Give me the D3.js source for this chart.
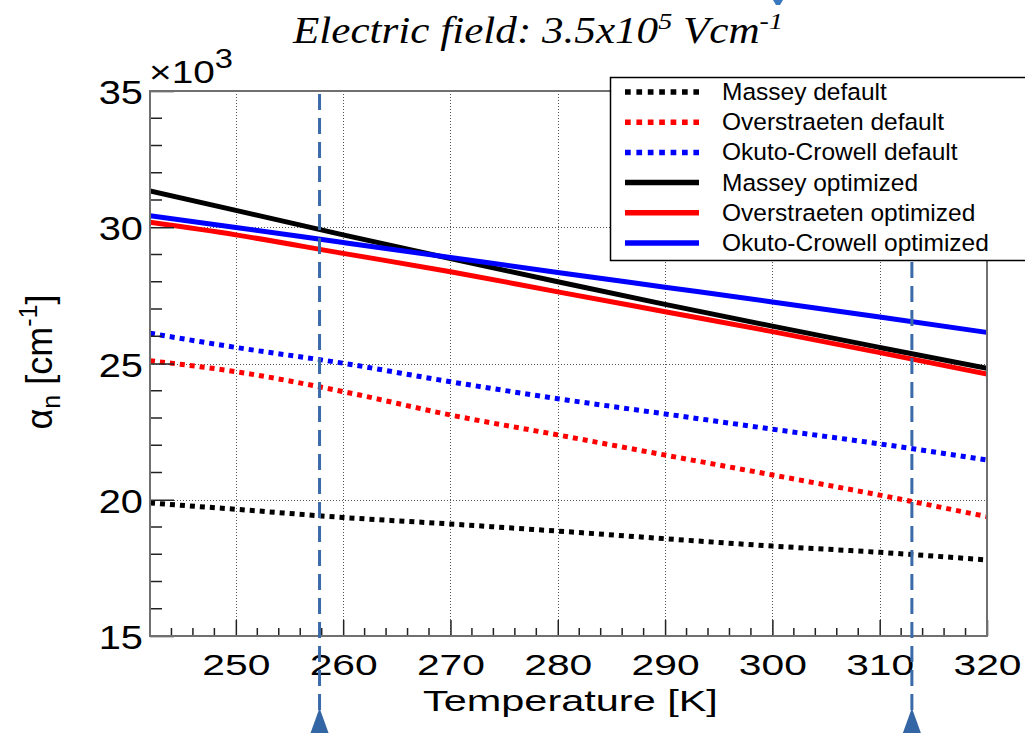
<!DOCTYPE html>
<html>
<head>
<meta charset="utf-8">
<script src="https://cdn.jsdelivr.net/npm/d3@7"></script>
<style>
  body { margin: 0; background: #fff; }
  svg { display: block; }
</style>
</head>
<body>
<svg width="1025" height="737"></svg>
<script>
// values in units of 10^3 cm^-1
const temps = [242, 250, 260, 270, 280, 290, 300, 310, 320];
const masseyDefault = [19.88, 19.65, 19.35, 19.11, 18.85, 18.57, 18.30, 18.07, 17.79];
const overstraetenDefault = [25.10, 24.70, 23.97, 23.11, 22.38, 21.64, 20.91, 20.17, 19.38];
const okutoDefault = [26.11, 25.59, 25.01, 24.33, 23.71, 23.15, 22.59, 22.05, 21.46];
const masseyOptimized = [31.33, 30.62, 29.72, 28.85, 28.00, 27.17, 26.37, 25.59, 24.82];
const overstraetenOptimized = [30.18, 29.72, 29.04, 28.37, 27.63, 26.90, 26.17, 25.40, 24.61];
const okutoOptimized = [30.42, 29.99, 29.44, 28.89, 28.34, 27.80, 27.26, 26.71, 26.14];

const xTicks = [250, 260, 270, 280, 290, 300, 310, 320];
const yTicks = [15, 20, 25, 30, 35];
const markerTemps = [257.8, 313.0];

const series = [
    { name: "Massey default", values: masseyDefault, color: "#000000", dotted: true },
    { name: "Overstraeten default", values: overstraetenDefault, color: "#ff0000", dotted: true },
    { name: "Okuto-Crowell default", values: okutoDefault, color: "#0000ff", dotted: true },
    { name: "Massey optimized", values: masseyOptimized, color: "#000000", dotted: false },
    { name: "Overstraeten optimized", values: overstraetenOptimized, color: "#ff0000", dotted: false },
    { name: "Okuto-Crowell optimized", values: okutoOptimized, color: "#0000ff", dotted: false }
];

const plotLeft = 150, plotRight = 987, plotTop = 91, plotBottom = 636;
const sans = "'Liberation Sans', Arial, sans-serif";

const svg = d3.select("svg");
const x = d3.scaleLinear().domain([242, 320]).range([plotLeft, plotRight]);
const y = d3.scaleLinear().domain([15, 35]).range([plotBottom, plotTop]);

// squeeze/stretch a text horizontally so it spans `width` px from (x0, y0)
function fitWidth(sel, x0, y0, width) {
    const len = sel.node().getComputedTextLength();
    sel.attr("transform", `translate(${x0},${y0}) scale(${width / len},1)`);
}

svg.append("defs").append("clipPath").attr("id", "frame")
    .append("rect")
    .attr("x", plotLeft).attr("y", plotTop)
    .attr("width", plotRight - plotLeft).attr("height", plotBottom - plotTop);

// grid
const grid = svg.append("g")
    .attr("stroke", "#555")
    .attr("stroke-width", 1)
    .attr("stroke-dasharray", "1,2");
grid.selectAll("line.gx")
    .data(xTicks.filter(t => t < 320))
    .join("line")
    .attr("x1", d => Math.round(x(d)) + 0.5).attr("x2", d => Math.round(x(d)) + 0.5)
    .attr("y1", plotTop).attr("y2", plotBottom);
grid.selectAll("line.gy")
    .data(yTicks.filter(t => t > 15 && t < 35))
    .join("line")
    .attr("y1", d => Math.round(y(d)) + 0.5).attr("y2", d => Math.round(y(d)) + 0.5)
    .attr("x1", plotLeft).attr("x2", plotRight);

// curves
const line = d3.line()
    .x((d, i) => x(temps[i]))
    .y(d => y(d))
    .curve(d3.curveMonotoneX);

svg.append("g")
    .attr("clip-path", "url(#frame)")
    .selectAll("path")
    .data(series)
    .join("path")
    .attr("fill", "none")
    .attr("stroke", d => d.color)
    .attr("stroke-width", 5)
    .attr("stroke-dasharray", d => d.dotted ? "5,5" : null)
    .attr("d", d => line(d.values));

// axes
const xAxis = svg.append("g")
    .attr("transform", `translate(0,${plotBottom})`)
    .call(d3.axisBottom(x).tickValues(xTicks).tickSize(-16).tickFormat(d3.format("d")));
xAxis.select(".domain").remove();
xAxis.selectAll(".tick line").attr("stroke", "#222").attr("stroke-width", 1.5);
xAxis.selectAll(".tick text")
    .attr("y", 39).attr("dy", null)
    .attr("fill", "#000")
    .style("font-family", sans)
    .style("font-size", "30px")
    .attr("transform", "scale(1.36,1)");

const yAxis = svg.append("g")
    .attr("transform", `translate(${plotLeft},0)`)
    .call(d3.axisLeft(y).tickValues(yTicks).tickSize(-24).tickFormat(d3.format("d")));
yAxis.select(".domain").remove();
yAxis.selectAll(".tick line").attr("stroke", "#222").attr("stroke-width", 1.5);
yAxis.selectAll(".tick text")
    .attr("x", -6)
    .attr("dy", "0.37em")
    .attr("fill", "#000")
    .style("font-family", sans)
    .style("font-size", "34px")
    .attr("transform", "scale(1.17,1)");

// minor ticks
const xMinor = d3.range(244, 320, 2).filter(t => t % 10 !== 0);
const yMinor = d3.range(16, 35, 1).filter(t => t % 5 !== 0);
svg.append("g").attr("stroke", "#222").attr("stroke-width", 1.5)
    .selectAll("line")
    .data(xMinor)
    .join("line")
    .attr("x1", d => x(d)).attr("x2", d => x(d))
    .attr("y1", plotBottom).attr("y2", plotBottom - 8);
svg.append("g").attr("stroke", "#222").attr("stroke-width", 1.5)
    .selectAll("line")
    .data(yMinor)
    .join("line")
    .attr("y1", d => y(d)).attr("y2", d => y(d))
    .attr("x1", plotLeft).attr("x2", plotLeft + 12);

// frame
svg.append("rect")
    .attr("x", plotLeft).attr("y", plotTop)
    .attr("width", plotRight - plotLeft).attr("height", plotBottom - plotTop)
    .attr("fill", "none")
    .attr("stroke", "#707070")
    .attr("stroke-width", 2);

// exponent label
const expo = svg.append("text")
    .style("font-family", sans)
    .style("font-size", "32px");
expo.append("tspan").text("\u00d710");
expo.append("tspan").attr("dy", -15).style("font-size", "27px").text("3");
fitWidth(expo, 149, 83, 84);

// axis titles
const xTitle = svg.append("text")
    .style("font-family", sans)
    .style("font-size", "29px")
    .text("Temperature [K]");
fitWidth(xTitle, 423, 711, 295);

const yTitle = svg.append("text")
    .attr("transform", "translate(52,362) rotate(-90)")
    .attr("text-anchor", "middle")
    .style("font-family", sans)
    .style("font-size", "36px");
yTitle.append("tspan").text("\u03b1");
yTitle.append("tspan").attr("dy", 8).style("font-size", "25px").text("n");
yTitle.append("tspan").attr("dy", -8).text(" [cm");
yTitle.append("tspan").attr("dy", -15).style("font-size", "25px").text("-1");
yTitle.append("tspan").attr("dy", 15).text("]");

// title
const title = svg.append("text")
    .style("font-family", "'Liberation Serif', 'Times New Roman', serif")
    .style("font-style", "italic")
    .style("font-size", "37px");
title.append("tspan").text("Electric field: 3.5x10");
title.append("tspan").attr("dy", -14).style("font-size", "24px").text("5");
title.append("tspan").attr("dy", 14).text(" Vcm");
title.append("tspan").attr("dy", -14).style("font-size", "24px").text("-1");
fitWidth(title, 293, 43, 490);

// marker lines (under the legend)
const markerColor = "#3a6aa8";
svg.append("g")
    .selectAll("line")
    .data(markerTemps)
    .join("line")
    .attr("x1", d => x(d)).attr("x2", d => x(d))
    .attr("y1", 94).attr("y2", 712)
    .attr("stroke", markerColor)
    .attr("stroke-width", 3)
    .attr("stroke-dasharray", "16,8");

// legend
const legend = svg.append("g");
legend.append("rect")
    .attr("x", 610.5).attr("y", 77.5)
    .attr("width", 430).attr("height", 183)
    .attr("fill", "#fff")
    .attr("stroke", "#000")
    .attr("stroke-width", 1.5);
const rows = legend.selectAll("g.row")
    .data(series)
    .join("g")
    .attr("transform", (d, i) => `translate(0,${92 + i * 30.2})`);
rows.append("line")
    .attr("x1", 625).attr("x2", 699)
    .attr("stroke", d => d.color)
    .attr("stroke-width", 5.5)
    .attr("stroke-dasharray", d => d.dotted ? "5.7,5.7" : null);
rows.append("text")
    .attr("x", 722).attr("y", 8)
    .style("font-family", sans)
    .style("font-size", "24.5px")
    .text(d => d.name);

// marker arrows at the bottom
const tri = d3.line()([[0, 0], [9, 25], [-9, 25]]) + "Z";
svg.append("g")
    .selectAll("path")
    .data(markerTemps)
    .join("path")
    .attr("transform", d => `translate(${x(d)},708)`)
    .attr("d", tri)
    .attr("fill", "#3465a4");

// small cut-off mark at the top edge
svg.append("path")
    .attr("d", "M773,0 L783,0 L780,5 L776,5 Z")
    .attr("fill", "#3b78c0");
</script>
</body>
</html>
